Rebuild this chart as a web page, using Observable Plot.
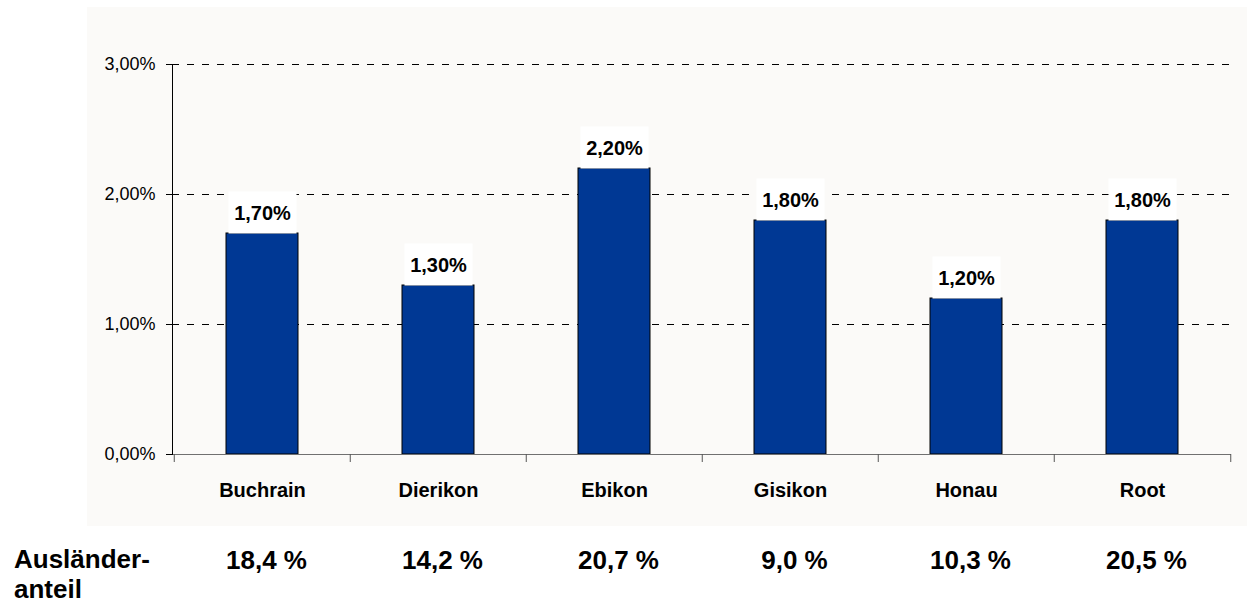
<!DOCTYPE html>
<html><head><meta charset="utf-8">
<script src="https://cdn.jsdelivr.net/npm/d3@7"></script>
<script src="https://cdn.jsdelivr.net/npm/@observablehq/plot@0.6"></script>
<style>
body{margin:0;background:#fff;font-family:"Liberation Sans",Arial,sans-serif;}
#wrap{position:relative;width:1252px;height:601px;overflow:hidden;}
#panel{position:absolute;left:87px;top:7px;width:1160px;height:519px;background:#fbfaf8;}
#chart{position:absolute;left:0;top:0;}
#rowlabel{position:absolute;left:14px;top:544px;font-size:26px;font-weight:bold;line-height:30px;color:#000;white-space:pre;}
#chart g[aria-label="x-axis tick label"]{font-weight:bold;}
</style></head><body>
<div id="wrap"><div id="panel"></div><div id="chart"></div><div id="rowlabel"></div></div>
<script>
const gemeinden = ["Buchrain", "Dierikon", "Ebikon", "Gisikon", "Honau", "Root"];
const zuwachs = [1.7, 1.3, 2.2, 1.8, 1.2, 1.8];
const auslaenderanteil = [18.4, 14.2, 20.7, 9.0, 10.3, 20.5];
const yTicks = [0, 1, 2, 3];
const gridTicks = [1, 2, 3];
const rowTitle = "Ausländer-\nanteil";

document.getElementById("rowlabel").textContent = rowTitle;

const data = gemeinden.map((g, i) => ({g, v: zuwachs[i], a: auslaenderanteil[i]}));
const fmtPct = d => d.toFixed(2).replace(".", ",") + "%";
const fmtAnteil = d => d.toFixed(1).replace(".", ",") + " %";

const W = 1252, H = 601, ML = 172, MR = 21, MT = 64, MB = 147;
const half = (W - ML - MR) / gemeinden.length / 2;
const frameH = H - MT - MB;

const boxSymbol = {draw(ctx) { ctx.rect(-34, -21, 68, 42); }};

const chart = Plot.plot({
  width: W, height: H,
  marginLeft: ML, marginRight: MR, marginTop: MT, marginBottom: MB,
  style: {background: "transparent", fontFamily: "'Liberation Sans', Arial, sans-serif", color: "#000", fontSize: "18px"},
  x: {domain: gemeinden, padding: 0},
  y: {domain: [0, 3]},
  marks: [
    Plot.ruleY(gridTicks, {stroke: "#000", strokeDasharray: "7,8", strokeWidth: 1}),
    Plot.barY(data, {x: "g", y: "v", fill: "#003894", stroke: "#000", strokeWidth: 1, insetLeft: 52, insetRight: 52}),
    Plot.dot(data, {x: "g", y: "v", dy: -21, symbol: boxSymbol, fill: "#fff", stroke: "none"}),
    Plot.text(data, {x: "g", y: "v", text: d => fmtPct(d.v), dy: -20, fontSize: 20, fontWeight: "bold", fill: "#000"}),
    Plot.ruleY([0], {stroke: "#707070", strokeWidth: 1.2}),
    Plot.frame({anchor: "left", stroke: "#000"}),
    Plot.ruleX(gemeinden, {x: d => d, dx: -half, insetTop: frameH, insetBottom: -8, stroke: "#555"}),
    Plot.ruleX([gemeinden[gemeinden.length - 1]], {x: d => d, dx: half, insetTop: frameH, insetBottom: -8, stroke: "#555"}),
    Plot.axisY({ticks: yTicks, tickFormat: fmtPct, tickSize: 6, tickPadding: 11, fontSize: 18, label: null}),
    Plot.axisX({tickSize: 0, tickPadding: 28, fontSize: 20, fontWeight: "bold", label: null}),
    Plot.text(data, {x: "g", text: d => fmtAnteil(d.a), frameAnchor: "bottom", lineAnchor: "top", dy: 96, dx: 4, fontSize: 26, fontWeight: "bold", fill: "#000"})
  ]
});
document.getElementById("chart").appendChild(chart);
</script>
</body></html>
